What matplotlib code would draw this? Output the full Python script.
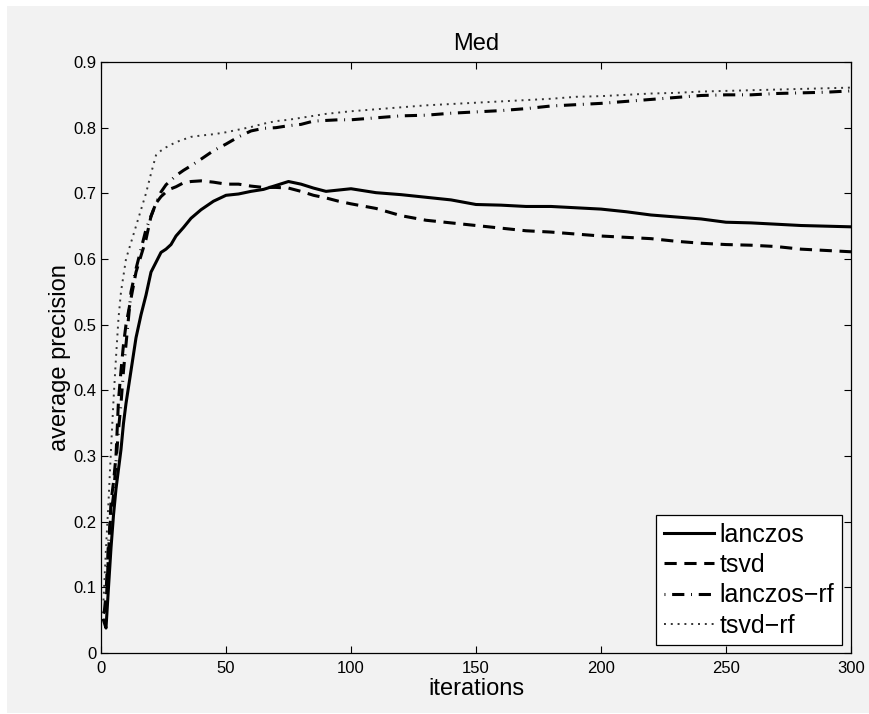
import matplotlib
matplotlib.use('Agg')
import matplotlib.pyplot as plt
from matplotlib.patches import Rectangle

plt.rcParams['font.family'] = ['Liberation Sans', 'DejaVu Sans']

# values (average precision vs iterations)
iters = [1, 2, 3, 4, 5, 6, 7, 8, 9, 10, 12, 14, 16, 18, 20, 22, 24, 26, 28, 30,
         33, 36, 40, 45, 50, 55, 60, 65, 70, 75, 80, 85, 90, 95, 100, 110, 120,
         130, 140, 150, 160, 170, 180, 190, 200, 210, 220, 230, 240, 250, 260,
         270, 280, 290, 300]

lanczos = [0.05, 0.038, 0.10, 0.16, 0.21, 0.25, 0.28, 0.31, 0.35, 0.38, 0.43,
           0.48, 0.515, 0.545, 0.58, 0.595, 0.61, 0.615, 0.622, 0.635, 0.648,
           0.662, 0.675, 0.688, 0.697, 0.699, 0.703, 0.706, 0.712, 0.718, 0.714,
           0.708, 0.703, 0.705, 0.707, 0.701, 0.698, 0.694, 0.690, 0.683, 0.682,
           0.680, 0.680, 0.678, 0.676, 0.672, 0.667, 0.664, 0.661, 0.656, 0.655,
           0.653, 0.651, 0.650, 0.649]

tsvd = [0.06, 0.07, 0.15, 0.23, 0.26, 0.30, 0.385, 0.43, 0.47, 0.50, 0.54,
        0.58, 0.605, 0.63, 0.665, 0.685, 0.695, 0.702, 0.707, 0.710, 0.716,
        0.718, 0.719, 0.717, 0.714, 0.714, 0.711, 0.709, 0.709, 0.708, 0.703,
        0.697, 0.693, 0.688, 0.684, 0.677, 0.666, 0.659, 0.655, 0.651, 0.647,
        0.643, 0.641, 0.638, 0.635, 0.633, 0.631, 0.627, 0.624, 0.622, 0.621,
        0.619, 0.615, 0.613, 0.611]

lanczos_rf = [0.05, 0.09, 0.17, 0.21, 0.24, 0.29, 0.34, 0.38, 0.43, 0.47, 0.55,
              0.585, 0.615, 0.645, 0.665, 0.685, 0.702, 0.713, 0.72, 0.727,
              0.735, 0.742, 0.752, 0.765, 0.775, 0.786, 0.795, 0.799, 0.800,
              0.803, 0.805, 0.810, 0.811, 0.812, 0.812, 0.815, 0.818, 0.819,
              0.822, 0.824, 0.826, 0.829, 0.833, 0.835, 0.837, 0.840, 0.843,
              0.846, 0.849, 0.850, 0.850, 0.852, 0.853, 0.854, 0.856]

tsvd_rf = [0.08, 0.16, 0.23, 0.31, 0.385, 0.45, 0.51, 0.55, 0.575, 0.60, 0.625,
           0.65, 0.675, 0.70, 0.73, 0.758, 0.765, 0.770, 0.774, 0.778, 0.782,
           0.786, 0.788, 0.790, 0.793, 0.797, 0.801, 0.806, 0.810, 0.812, 0.815,
           0.818, 0.821, 0.823, 0.825, 0.828, 0.831, 0.834, 0.836, 0.838, 0.840,
           0.842, 0.844, 0.847, 0.848, 0.850, 0.852, 0.853, 0.855, 0.856, 0.857,
           0.858, 0.859, 0.860, 0.861]

labels = ['lanczos', 'tsvd', 'lanczos\u2212rf', 'tsvd\u2212rf']
xticks = [0, 50, 100, 150, 200, 250, 300]
yticks = [0, 0.1, 0.2, 0.3, 0.4, 0.5, 0.6, 0.7, 0.8, 0.9]

bg = '#f2f2f2'
W, H = 869, 714
fig = plt.figure(figsize=(W / 100, H / 100), dpi=100)
fig.patch.set_facecolor('white')
# grey window area, white margin on top/left
fig.add_artist(Rectangle((7 / W, 1 / H), 1 - 7 / W, (H - 7) / H,
                         transform=fig.transFigure, facecolor=bg,
                         edgecolor='none', zorder=-5))

ax = fig.add_axes([101 / W, (H - 653) / H, 750 / W, 591 / H])
ax.set_facecolor(bg)

ax.plot(iters, lanczos, color='k', lw=2.2, ls='-', label=labels[0])
ax.plot(iters, tsvd, color='k', lw=2.2, ls=(0, (4, 2.5)), label=labels[1])
ax.plot(iters, lanczos_rf, color='k', lw=2.2, ls=(0, (0.3, 2.2, 4, 2.2)),
        label=labels[2])
ax.plot(iters, tsvd_rf, color='#333333', lw=1.4, ls=(0, (1, 2.5)), label=labels[3])

ax.set_xlim(0, 300)
ax.set_ylim(0, 0.9)
ax.set_xticks(xticks)
ax.set_xticklabels([str(t) for t in xticks])
ax.set_yticks(yticks)
ax.set_yticklabels(['0'] + ['%.1f' % t for t in yticks[1:]])
ax.tick_params(direction='in', length=5, width=0.8, top=True, right=True,
               labelsize=12)
ax.tick_params(axis='x', pad=6)
ax.tick_params(axis='y', pad=3)
for s in ax.spines.values():
    s.set_linewidth(0.9)

ax.set_xlabel('iterations', fontsize=17, labelpad=1)
ax.set_ylabel('average precision', fontsize=17, labelpad=2)
ax.set_title('Med', fontsize=17, pad=9)

leg = ax.legend(loc='lower right', bbox_to_anchor=(0.988, 0.0135),
                borderaxespad=0, fontsize=18, handlelength=2.0,
                handletextpad=0.25, labelspacing=0.25, borderpad=0.3,
                fancybox=False, framealpha=1, edgecolor='k')
leg.get_frame().set_linewidth(0.9)

fig.savefig('out.png', dpi=100, facecolor=fig.get_facecolor())
